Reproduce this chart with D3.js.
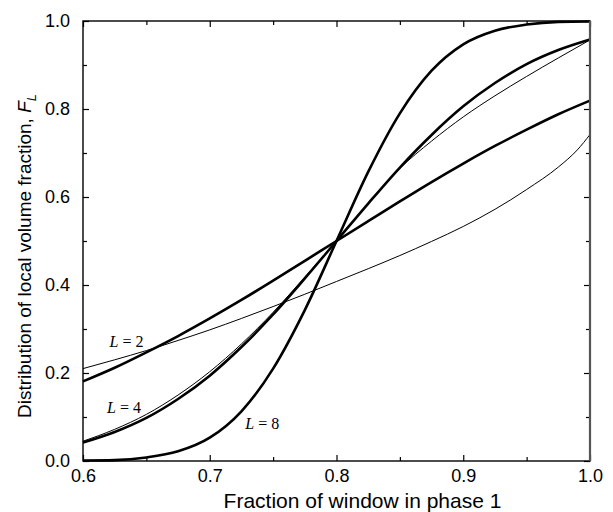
<!DOCTYPE html>
<html lang="en">
<head>
<meta charset="UTF-8">
<title>Distribution of local volume fraction</title>
<script src="https://d3js.org/d3.v7.min.js"></script>
<style>
  body { margin: 0; background: #fff; }
  .tick text { font-family: "Liberation Sans", Arial, sans-serif; font-size: 18px; fill: #000; }
  .lbl { font-family: "Liberation Serif", "Times New Roman", serif; font-size: 16px; }
</style>
</head>
<body>
<div id="chart"></div>
<script>
// values
const xGrid = [0.6, 0.625, 0.65, 0.675, 0.7, 0.725, 0.75, 0.775, 0.8,
               0.825, 0.85, 0.875, 0.9, 0.925, 0.95, 0.975, 1.0];
const thickL2 = [0.181, 0.212, 0.247, 0.284, 0.324, 0.366, 0.410, 0.455, 0.5,
                 0.545, 0.590, 0.634, 0.676, 0.716, 0.753, 0.788, 0.819];
const thickL4 = [0.042, 0.066, 0.098, 0.141, 0.194, 0.259, 0.333, 0.415, 0.5,
                 0.585, 0.667, 0.741, 0.806, 0.859, 0.902, 0.934, 0.958];
const thickL8 = [0.001, 0.002, 0.008, 0.022, 0.053, 0.113, 0.210, 0.343, 0.5,
                 0.657, 0.790, 0.887, 0.947, 0.978, 0.992, 0.998, 0.999];
const thinL4 = [0.045, 0.072, 0.106, 0.150, 0.203, 0.266, 0.338, 0.418, 0.5,
                0.585, 0.665, 0.727, 0.782, 0.830, 0.874, 0.916, 0.957];
const thinL2x = [0.6, 0.625, 0.65, 0.675, 0.7, 0.725, 0.75, 0.775, 0.8,
                 0.825, 0.85, 0.875, 0.9, 0.925, 0.95, 0.975, 0.99, 1.0];
const thinL2 = [0.21, 0.230, 0.251, 0.274, 0.298, 0.324, 0.351, 0.379, 0.408,
                0.437, 0.467, 0.499, 0.533, 0.572, 0.617, 0.668, 0.707, 0.742];

const xMajor = [0.6, 0.7, 0.8, 0.9, 1.0];
const xMinor = [0.65, 0.75, 0.85, 0.95];
const yMajor = [0, 0.2, 0.4, 0.6, 0.8, 1.0];
const yMinor = [0.1, 0.3, 0.5, 0.7, 0.9];

const labels = [
  {L: 2, x: 0.621, y: 0.259},
  {L: 4, x: 0.619, y: 0.109},
  {L: 8, x: 0.728, y: 0.073}
];

const svg = d3.select("#chart").append("svg")
    .attr("width", 613)
    .attr("height", 512);

const margin = {top: 21, right: 23, bottom: 51, left: 83},
      width = 613 - margin.left - margin.right,
      height = 512 - margin.top - margin.bottom,
      g = svg.append("g").attr("transform", `translate(${margin.left},${margin.top})`);

const x = d3.scaleLinear().domain([0.6, 1.0]).range([0, width]);
const y = d3.scaleLinear().domain([0, 1]).range([height, 0]);
const fmt = d3.format(".1f");

// curves
const line = d3.line()
    .x(d => x(d[0]))
    .y(d => y(d[1]))
    .curve(d3.curveMonotoneX);

const series = [
  {xs: thinL2x, ys: thinL2, w: 1},
  {xs: xGrid, ys: thinL4, w: 1},
  {xs: xGrid, ys: thickL2, w: 2.6},
  {xs: xGrid, ys: thickL4, w: 2.6},
  {xs: xGrid, ys: thickL8, w: 2.6}
];

g.selectAll(".curve")
  .data(series)
  .enter().append("path")
    .attr("class", "curve")
    .attr("d", s => line(s.xs.map((v, i) => [v, s.ys[i]])))
    .attr("fill", "none")
    .attr("stroke", "#000")
    .attr("stroke-width", s => s.w);

// axes, ticks pointing inward
g.append("g").attr("transform", `translate(0,${height})`)
    .call(d3.axisBottom(x).tickValues(xMajor).tickSize(-6).tickPadding(8).tickFormat(fmt));
g.append("g").attr("transform", `translate(0,${height})`)
    .call(d3.axisBottom(x).tickValues(xMinor).tickSize(-4).tickFormat(""));
g.append("g")
    .call(d3.axisTop(x).tickValues(xMajor).tickSize(-6).tickFormat(""));
g.append("g")
    .call(d3.axisTop(x).tickValues(xMinor).tickSize(-4).tickFormat(""));
g.append("g")
    .call(d3.axisLeft(y).tickValues(yMajor).tickSize(-6).tickPadding(13).tickFormat(fmt));
g.append("g")
    .call(d3.axisLeft(y).tickValues(yMinor).tickSize(-4).tickFormat(""));
g.append("g").attr("transform", `translate(${width},0)`)
    .call(d3.axisRight(y).tickValues(yMajor).tickSize(-6).tickFormat(""));
g.append("g").attr("transform", `translate(${width},0)`)
    .call(d3.axisRight(y).tickValues(yMinor).tickSize(-4).tickFormat(""));

g.selectAll(".domain").remove();
g.selectAll(".tick line").attr("stroke", "#000").attr("stroke-width", 1.2);

// frame
g.append("rect")
    .attr("width", width)
    .attr("height", height)
    .attr("fill", "none")
    .attr("stroke", "#000")
    .attr("stroke-width", 1.4);
g.append("line")
    .attr("x1", width).attr("x2", width)
    .attr("y1", 0).attr("y2", height)
    .attr("stroke", "#555")
    .attr("stroke-width", 2.2);

// curve labels
labels.forEach(d => {
  const t = g.append("text")
      .attr("class", "lbl")
      .attr("x", x(d.x))
      .attr("y", y(d.y));
  t.append("tspan").style("font-style", "italic").text("L");
  t.append("tspan").text(" = " + d.L);
});

// axis titles
svg.append("text")
    .attr("x", margin.left + width / 2 + 26)
    .attr("y", 508)
    .attr("text-anchor", "middle")
    .style("font-family", "Liberation Sans, Arial, sans-serif")
    .style("font-size", "21px")
    .text("Fraction of window in phase 1");

const yt = svg.append("text")
    .attr("transform", `translate(31,${256}) rotate(-90)`)
    .attr("text-anchor", "middle")
    .style("font-family", "Liberation Sans, Arial, sans-serif")
    .style("font-size", "19px");
yt.append("tspan").text("Distribution of local volume fraction, ");
yt.append("tspan").style("font-style", "italic").text("F");
yt.append("tspan").style("font-style", "italic").style("font-size", "13px")
    .attr("dy", 5).text("L");
</script>
</body>
</html>
